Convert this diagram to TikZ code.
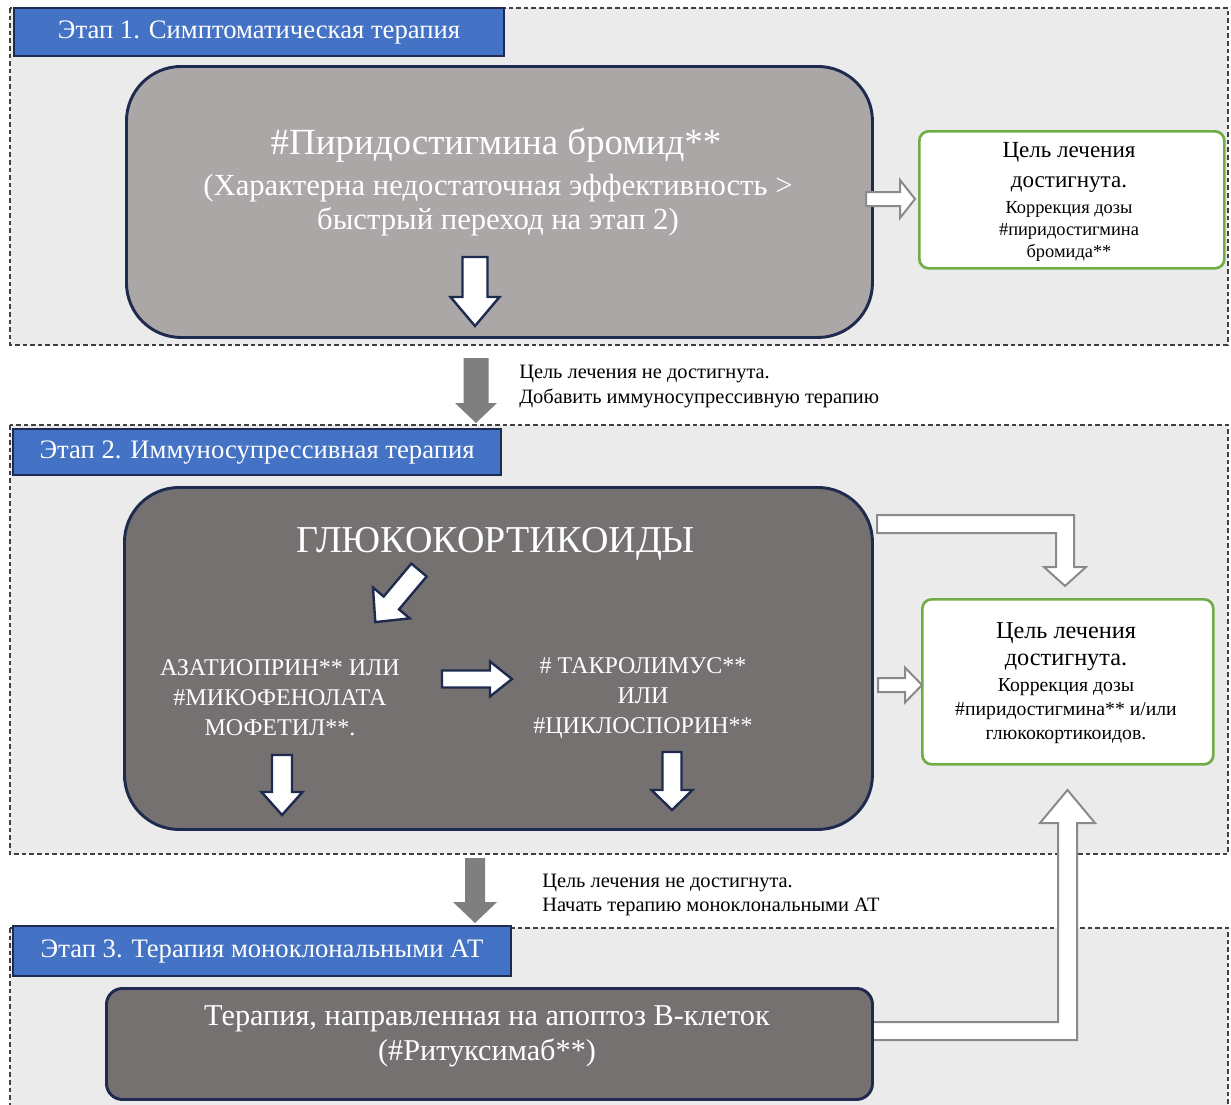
\documentclass[tikz,border=0pt]{standalone}
\usepackage{fontspec}
\setmainfont{Liberation Serif}
\newdimen\PX \PX=0.75pt
\definecolor{areagray}{HTML}{EBEBEB}
\definecolor{labelblue}{HTML}{4472C4}
\definecolor{navy}{HTML}{1F2A4F}
\definecolor{lightbox}{HTML}{ABA7A7}
\definecolor{darkbox}{HTML}{767171}
\definecolor{goalgreen}{HTML}{70AD47}
\definecolor{arrowgray}{HTML}{7F7F7F}
\definecolor{outlinegray}{HTML}{8A8A8A}
\tikzset{
  area/.style={draw=black!75, fill=areagray, line width=1.1pt, dash pattern=on 3.5pt off 2.2pt},
  stagelabel/.style={draw=navy, fill=labelblue, line width=1.6pt, text=white, font=\fontsize{20}{24}\selectfont, inner sep=0pt, anchor=north west},
  bigbox/.style={draw=navy, line width=2.2pt, inner sep=0pt, anchor=north west},
  goal/.style={draw=goalgreen, fill=white, line width=2pt, rounded corners=7pt, inner sep=0pt, anchor=north west},
  wtext/.style={text=white, align=center, inner sep=0pt},
  btext/.style={text=black, align=center, inner sep=0pt},
  gaptext/.style={text=black, align=left, inner sep=0pt, anchor=west},
  whitearrow/.style={fill=white, draw=navy, line width=1.8pt, line join=miter},
  grayarrow/.style={fill=arrowgray},
  outarrow/.style={fill=white, draw=outlinegray, line width=1.5pt, line join=miter},
  pics/blockdown/.style n args={4}{code={%
    \path[pic actions] (-#2,0) -- (#2,0) -- (#2,#1-#4) -- (#3,#1-#4) -- (0,#1) -- (-#3,#1-#4) -- (-#2,#1-#4) -- cycle;}},
}
\begin{document}
\begin{tikzpicture}[x=0.75pt,y=-0.75pt]
\useasboundingbox (0,0) rectangle (1231,1104);
\fill[white] (0,0) rectangle (1231,1104);

% stage areas
\draw[area] (10,8) rectangle (1228,345);
\draw[area] (10,425) rectangle (1228,854);
\draw[area] (10,928) rectangle (1228,1110);

% bent outline arrows (behind boxes)
\path[outarrow] (877,515) -- (1074,515) -- (1074,567) -- (1086,567) -- (1065,586) -- (1044,567) -- (1056,567) -- (1056,533) -- (877,533) -- cycle;
\path[outarrow] (866,1022) -- (1058,1022) -- (1058,823) -- (1040,823) -- (1067.5,790) -- (1095,823) -- (1077,823) -- (1077,1040) -- (866,1040) -- cycle;

% main boxes
\node[bigbox, fill=lightbox, rounded corners=41pt, minimum width=746\PX, minimum height=271\PX] (b1) at (125,65) {};
\node[bigbox, fill=darkbox, rounded corners=41pt, minimum width=748\PX, minimum height=342\PX] (b2) at (123,486) {};
\node[bigbox, fill=darkbox, rounded corners=12pt, minimum width=766\PX, minimum height=111\PX] (b3) at (105,987) {};

% goal boxes
\node[goal, minimum width=305\PX, minimum height=137\PX] (g1) at (918,130) {};
\node[goal, minimum width=291\PX, minimum height=165\PX] (g2) at (921,598) {};

% stage labels
\node[stagelabel, minimum width=490\PX, minimum height=48\PX] (l1) at (13,7) {Этап 1. Симптоматическая терапия};
\node[stagelabel, minimum width=488\PX, minimum height=46\PX] (l2) at (12,428) {Этап 2. Иммуносупрессивная терапия};
\node[stagelabel, minimum width=498\PX, minimum height=50\PX] (l3) at (12,925) {Этап 3. Терапия моноклональными АТ};

% box 1 text
\node[wtext, font=\fontsize{27.7}{33}\selectfont] (t1) at (496,145) {\#Пиридостигмина бромид**};
\node[wtext, font=\fontsize{23}{25.5}\selectfont] (t1s) at (498,205) {(Характерна недостаточная эффективность >\\быстрый переход на этап 2)};

% box 2 text
\node[wtext, font=\fontsize{28.5}{32}\selectfont] (t2) at (496,544) {ГЛЮКОКОРТИКОИДЫ};
\node[wtext, font=\fontsize{18}{22.5}\selectfont] (t2a) at (280,698) {АЗАТИОПРИН** ИЛИ\\\#МИКОФЕНОЛАТА\\МОФЕТИЛ**.};
\node[wtext, font=\fontsize{18}{22.5}\selectfont] (t2b) at (643,698) {\# ТАКРОЛИМУС**\\ИЛИ\\\#ЦИКЛОСПОРИН**};

% box 3 text
\node[wtext, font=\fontsize{22.7}{26.25}\selectfont] (t3) at (487,1036) {Терапия, направленная на апоптоз В-клеток\\(\#Ритуксимаб**)};

% goal texts
\node[btext, font=\fontsize{17.3}{22.5}\selectfont] (g1t) at (1069,167) {Цель лечения\\достигнута.};
\node[btext, font=\fontsize{13.8}{16.5}\selectfont] (g1s) at (1069,231) {Коррекция дозы\\\#пиридостигмина\\бромида**};
\node[btext, font=\fontsize{18.2}{20.25}\selectfont] (g2t) at (1066,647) {Цель лечения\\достигнута.};
\node[btext, font=\fontsize{14.8}{18}\selectfont] (g2s) at (1066,711) {Коррекция дозы\\\#пиридостигмина** и/или\\глюкокортикоидов.};

% gap texts
\node[gaptext, font=\fontsize{15.3}{18.75}\selectfont] (gt1) at (519,387) {Цель лечения не достигнута.\\Добавить иммуносупрессивную терапию};
\node[gaptext, font=\fontsize{15.3}{18}\selectfont] (gt2) at (542,895) {Цель лечения не достигнута.\\Начать терапию моноклональными АТ};

% white arrows inside boxes
\pic[whitearrow] at (475,257) {blockdown={69}{12.5}{24.5}{29}};
\pic[whitearrow, rotate=-40] at (419,570) {blockdown={68}{10}{24}{25}};
\pic[whitearrow, rotate=90] at (442,679) {blockdown={70}{8.5}{17.5}{22}};
\pic[whitearrow] at (282,755) {blockdown={60}{10}{20.5}{23}};
\pic[whitearrow] at (672,752) {blockdown={58}{9.5}{20.5}{20}};

% gray arrows between stages
\pic[grayarrow] at (476,358) {blockdown={65}{12.5}{21}{20}};
\pic[grayarrow] at (475,858) {blockdown={65}{10}{22}{21}};

% outline arrows to goals
\pic[outarrow, rotate=90] at (866,199) {blockdown={49}{7}{19}{15}};
\pic[outarrow, rotate=90] at (878,685) {blockdown={44}{7}{17.5}{17}};
\end{tikzpicture}
\end{document}
